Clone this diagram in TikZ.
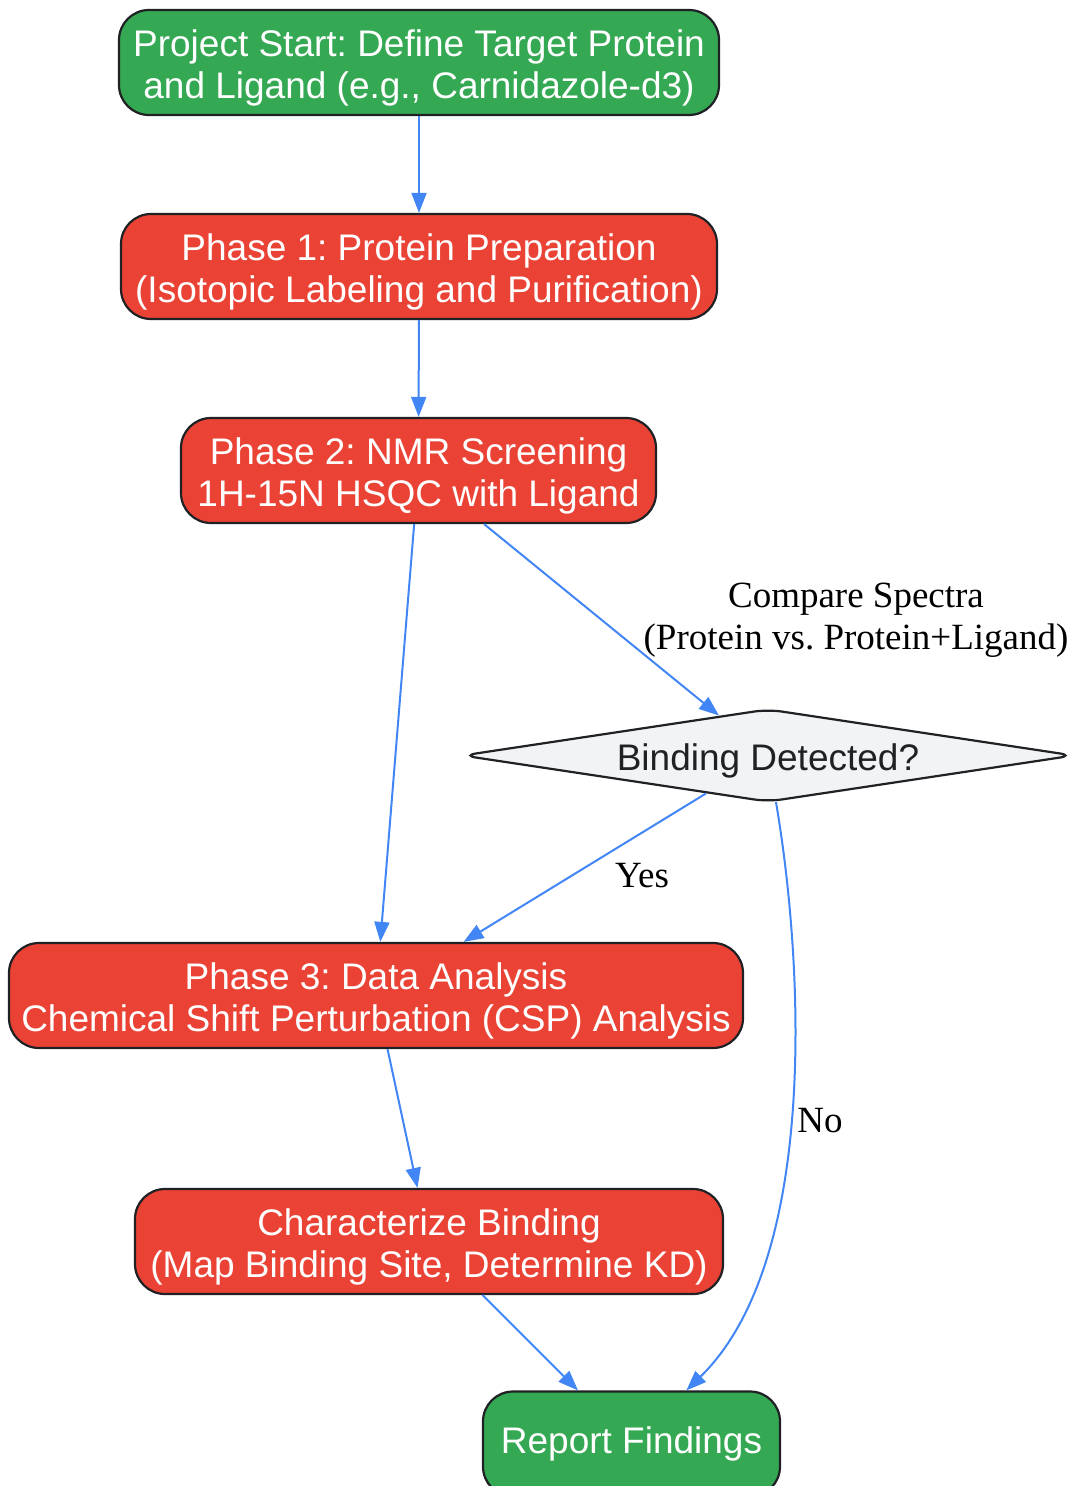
\documentclass[tikz,border=0pt]{standalone}
\usepackage{fontspec}
\setmainfont{Liberation Serif}
\setsansfont{Liberation Sans}
\usetikzlibrary{shapes.geometric}
\usetikzlibrary{arrows.meta}
\frenchspacing

\definecolor{startgreen}{HTML}{34A853}
\definecolor{phasered}{HTML}{EA4335}
\definecolor{edgeblue}{HTML}{4285F4}
\definecolor{decisiongray}{HTML}{F1F3F4}
\definecolor{inkdark}{HTML}{202124}

\begin{document}
\begin{tikzpicture}[x=1pt,y=-1pt,>={Triangle[length=20pt,width=15pt]},
	base node/.style={draw=inkdark,line width=2.2pt,rounded corners=30pt,
		inner sep=0pt,minimum height=105pt,align=center,text=white,
		font=\sffamily\fontsize{37}{42}\selectfont},
	two lines/.style={text height=76pt,text depth=5pt},
	end node/.style={base node,fill=startgreen},
	phase node/.style={base node,two lines,fill=phasered},
	check node/.style={diamond,draw=inkdark,line width=2.2pt,rounded corners=14pt,
		fill=decisiongray,text=inkdark,inner sep=0pt,aspect=6.6,
		minimum width=612pt,minimum height=93pt,text height=37pt,text depth=8pt,
		font=\sffamily\fontsize{37}{42}\selectfont},
	edge label/.style={align=center,text=black,font=\fontsize{37}{42}\selectfont}]
	
	\useasboundingbox (0,0) rectangle (1070,1486);
	
	\node[end node,two lines,minimum width=600pt] (start) at (419,62.5) {Project Start: Define Target Protein\\and Ligand (e.g., Carnidazole-d3)};
	\node[phase node,minimum width=596pt] (prep) at (419,266.5) {Phase 1: Protein Preparation\\(Isotopic Labeling and Purification)};
	\node[phase node,minimum width=475pt] (screen) at (418.5,470.5) {Phase 2: NMR Screening\\1H-15N HSQC with Ligand};
	\node[check node] (binding) at (768,755.5) {Binding Detected?};
	\node[phase node,minimum width=734pt] (analysis) at (376,995.5) {Phase 3: Data Analysis\\Chemical Shift Perturbation (CSP) Analysis};
	\node[phase node,minimum width=588pt] (character) at (429,1241.5) {Characterize Binding\\(Map Binding Site, Determine KD)};
	\node[end node,minimum width=297pt] (report) at (631.5,1444) {Report Findings};
	
	\node[edge label] (compare) at (856,620) {Compare Spectra\\(Protein vs. Protein+Ligand)};
	\node[edge label] (yes) at (642,876) {Yes};
	\node[edge label] (no) at (820,1121) {No};
	
	\path[->,draw=edgeblue,line width=2pt,every edge/.style={draw=edgeblue,line width=2pt}]
	(start) edge (prep)
	(prep) edge (screen)
	(screen) edge (analysis)
	(screen) edge (binding)
	(binding) edge (analysis)
	(analysis) edge (character)
	(character) edge (report);
	\draw[->,draw=edgeblue,fill=none,line width=2pt] (binding) .. controls (803,960) and (820,1260) .. (report);
\end{tikzpicture}
\end{document}
